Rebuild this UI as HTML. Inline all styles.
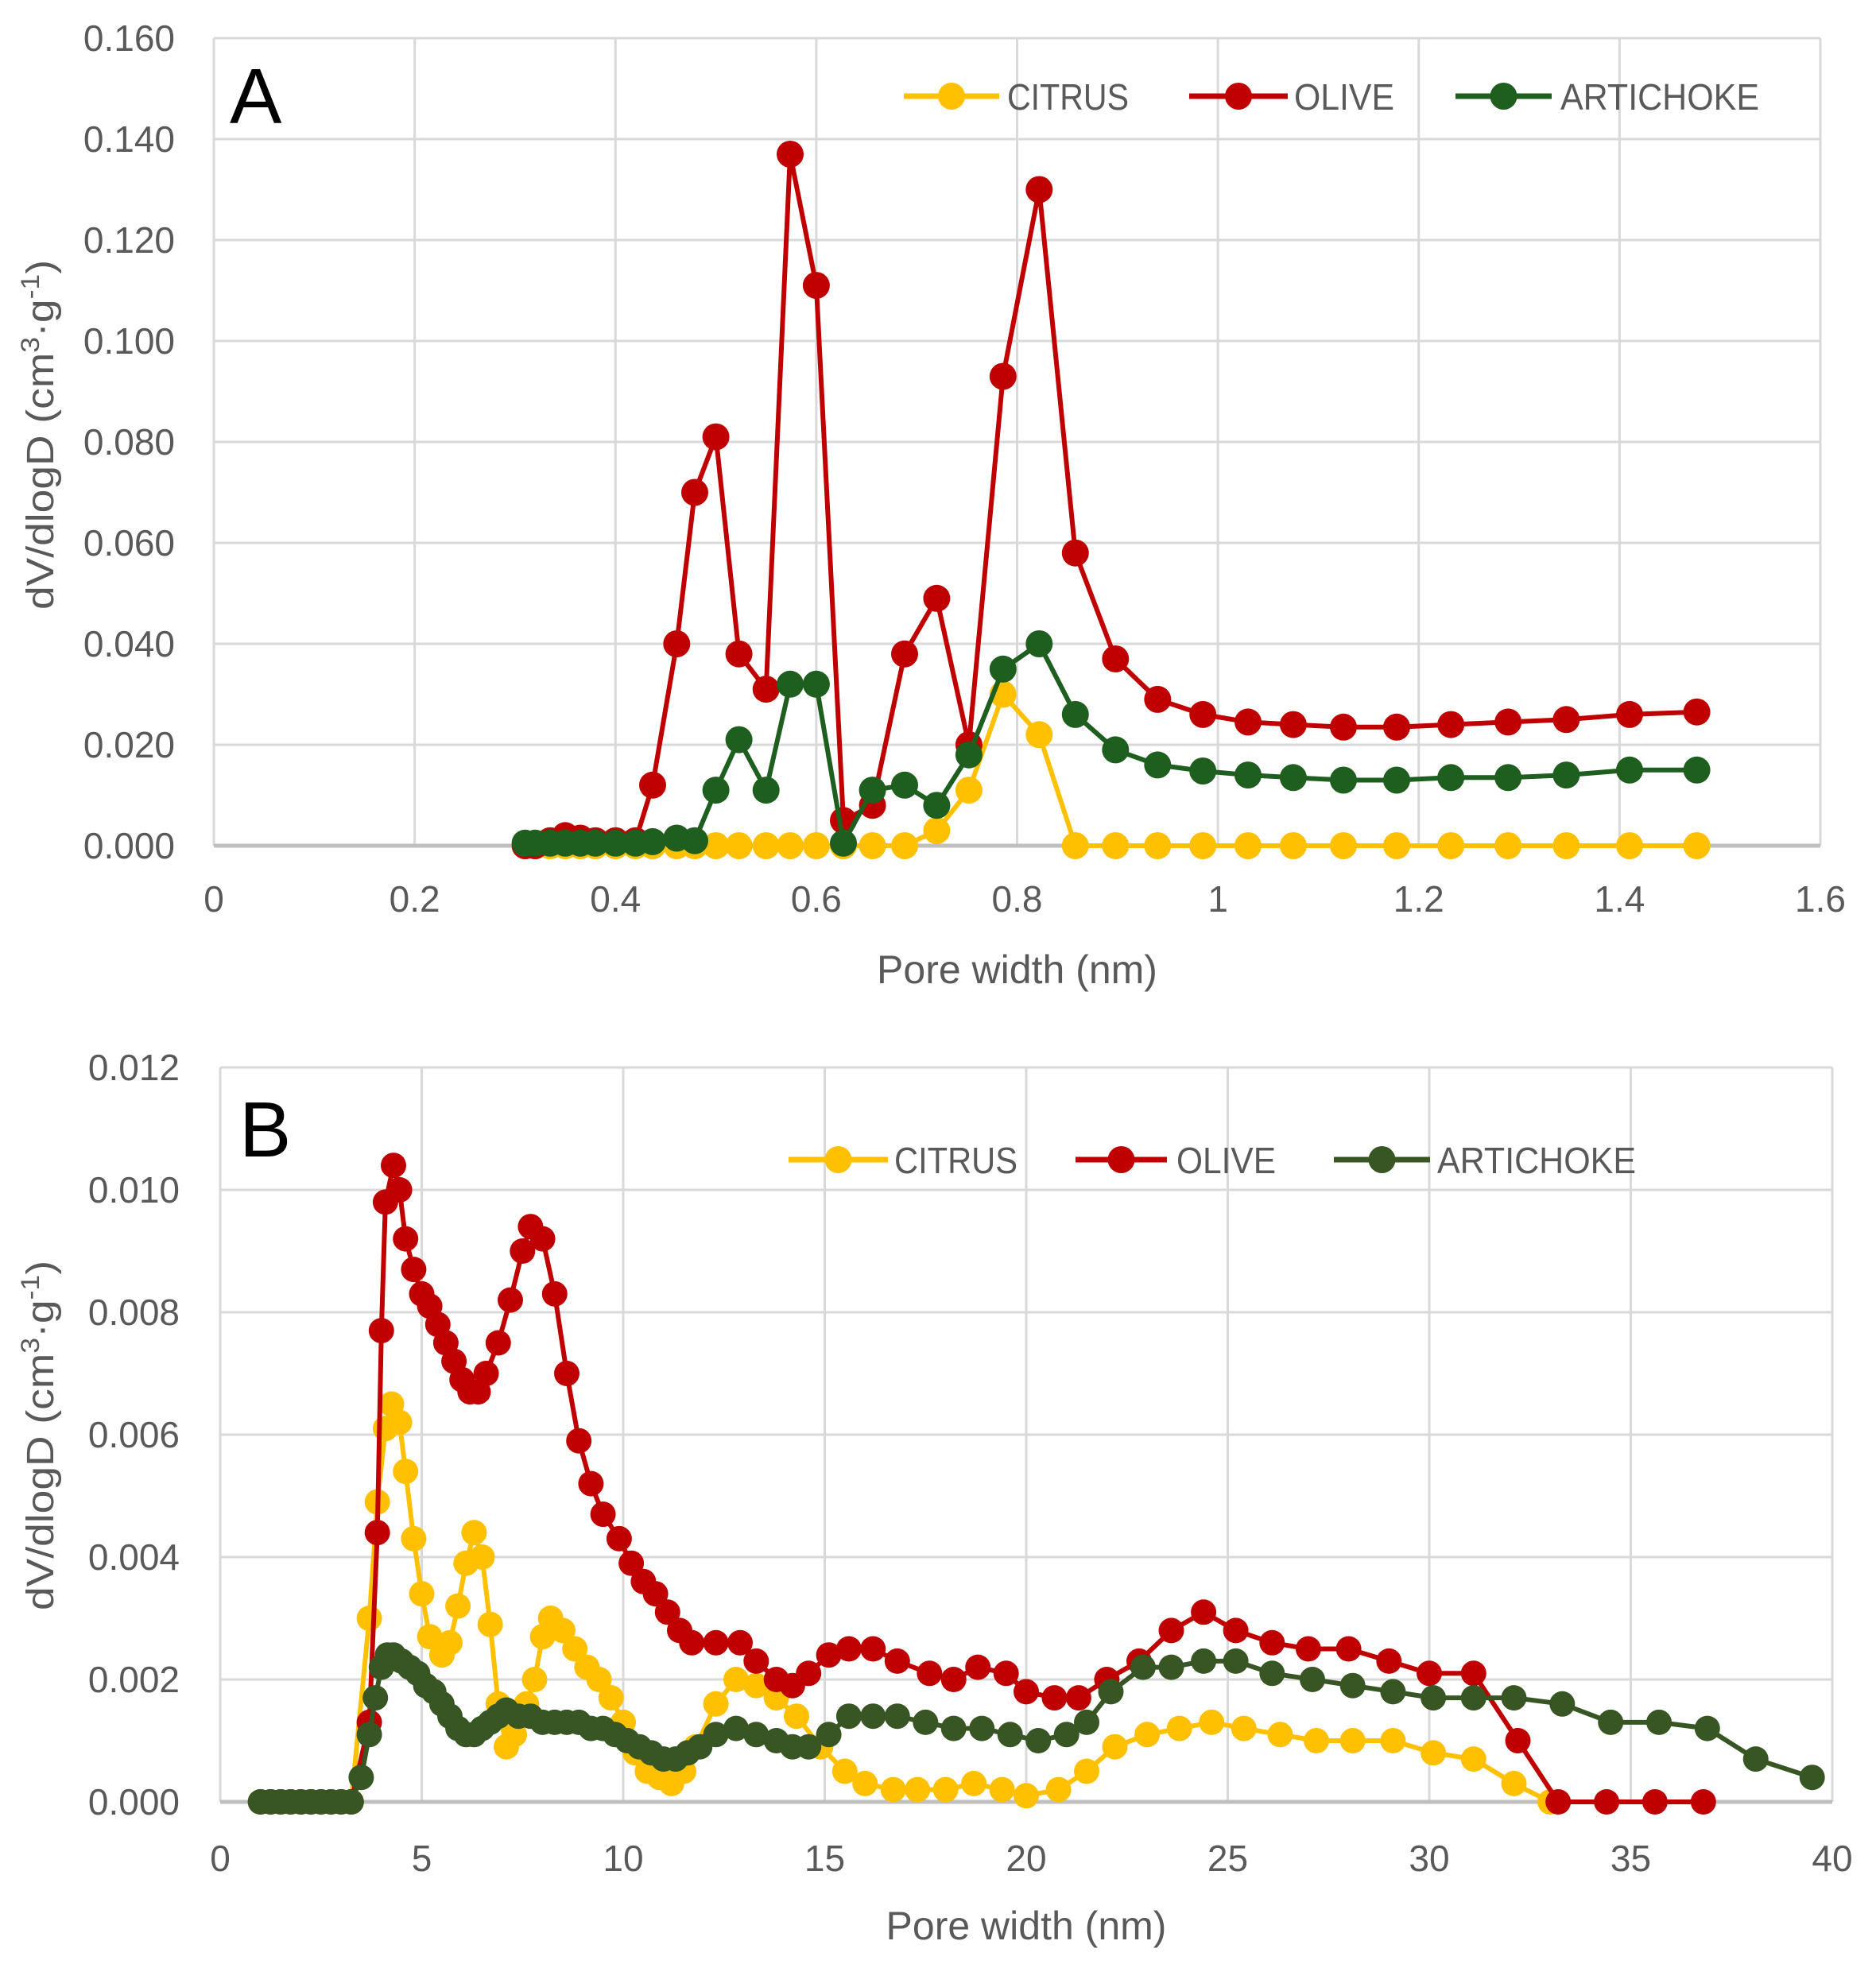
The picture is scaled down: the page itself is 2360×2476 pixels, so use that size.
<!DOCTYPE html>
<html><head><meta charset="utf-8"><style>
html,body{margin:0;padding:0;background:#fff}
svg{display:block}
text{font-family:"Liberation Sans",sans-serif;fill:#595959}
</style></head><body>
<svg id="s" width="2360" height="2476" xmlns="http://www.w3.org/2000/svg"></svg>
<script>
const S=document.getElementById('s');let h='';
function chart(o){
 const X=v=>o.l+(v-o.x0)/(o.x1-o.x0)*(o.r-o.l), Y=v=>o.b-(v/o.y1)*(o.b-o.t);
 for(let i=0;i<=o.nx;i++){const v=o.x0+i*(o.x1-o.x0)/o.nx;h+=`<line x1="${X(v)}" y1="${o.t}" x2="${X(v)}" y2="${o.b}" stroke="#d9d9d9" stroke-width="3"/>`;
  h+=`<text x="${X(v)}" y="${o.xlb}" font-size="46" text-anchor="middle">${o.xf(v)}</text>`;}
 for(let i=0;i<=o.ny;i++){const v=i*o.y1/o.ny;h+=`<line x1="${o.l}" y1="${Y(v)}" x2="${o.r}" y2="${Y(v)}" stroke="${i==0?'#bfbfbf':'#d9d9d9'}" stroke-width="${i==0?5:3}"/>`;
  h+=`<text x="${o.ylr}" y="${Y(v)+16}" font-size="46" text-anchor="end">${v.toFixed(3)}</text>`;}
 h+=`<text x="${(o.l+o.r)/2}" y="${o.xtb}" font-size="50" text-anchor="middle">Pore width (nm)</text>`;
 h+=`<text transform="translate(67,${o.yc}) rotate(-90)" font-size="48" text-anchor="middle" textLength="440" lengthAdjust="spacingAndGlyphs">dV/dlogD (cm<tspan font-size="32" dy="-18">3</tspan><tspan dy="18">·g</tspan><tspan font-size="32" dy="-18">-1</tspan><tspan dy="18">)</tspan></text>`;
 h+=`<text x="${o.lx}" y="${o.lby}" font-size="98" style="fill:#000">${o.lab}</text>`;
 o.series.forEach(s=>{const p=s.d.map(d=>X(d[0]).toFixed(1)+','+Y(d[1]).toFixed(1)).join(' ');
  h+=`<polyline points="${p}" fill="none" stroke="${s.c}" stroke-width="${o.lw}" stroke-linejoin="round"/>`;
  s.d.forEach(d=>h+=`<circle cx="${X(d[0]).toFixed(1)}" cy="${Y(d[1]).toFixed(1)}" r="${o.mr}" fill="${s.c}"/>`);});
 o.leg.forEach(g=>{h+=`<line x1="${g.a}" y1="${o.ly}" x2="${g.b}" y2="${o.ly}" stroke="${g.c}" stroke-width="7"/><circle cx="${(g.a+g.b)/2}" cy="${o.ly}" r="17" fill="${g.c}"/><text x="${g.tx}" y="${o.ly+17}" font-size="46" textLength="${g.tw}" lengthAdjust="spacingAndGlyphs">${g.t}</text>`;});
}
const low=[0.31,0.32,0.335,0.35,0.365,0.38,0.40,0.42];
const xsA=[0.437,0.461,0.479,0.50,0.523,0.55,0.574,0.60,0.627,0.656,0.688,0.72,0.752,0.786,0.822,0.858,0.898,0.94,0.985,1.03,1.075,1.125,1.178,1.232,1.289,1.347,1.41,1.477];
const oA=[0.012,0.040,0.070,0.081,0.038,0.031,0.137,0.111,0.005,0.008,0.038,0.049,0.020,0.093,0.130,0.058,0.037,0.029,0.026,0.0245,0.024,0.0235,0.0235,0.024,0.0245,0.025,0.026,0.0265];
const aA=[0.0008,0.0015,0.001,0.011,0.021,0.011,0.032,0.032,0.0005,0.011,0.012,0.008,0.018,0.035,0.040,0.026,0.019,0.016,0.0148,0.014,0.0135,0.013,0.013,0.0135,0.0135,0.014,0.015,0.015];
const cA=xsA.map((x,i)=>[x,[0,0,0,0,0,0,0,0,0,0,0,0.003,0.011,0.030,0.022][i]||0]);
const olA=[[0.31,0],[0.32,0],[0.335,0.001],[0.35,0.002],[0.365,0.0015],[0.38,0.001],[0.40,0.001],[0.42,0.001]].concat(xsA.map((x,i)=>[x,oA[i]]));
const arA=low.map(x=>[x,0.0005]).concat(xsA.map((x,i)=>[x,aA[i]]));
const ciA=low.map(x=>[x,0]).concat(cA);
chart({l:269,r:2290,t:48,b:1064,x0:0,x1:1.6,nx:8,y1:0.16,ny:8,xf:v=>+v.toFixed(1)+'',ylr:220,xlb:1147,xtb:1237,yc:547,lab:'A',lx:289,lby:155,lw:6,mr:17,
 series:[{c:'#FFC000',d:ciA},{c:'#C00000',d:olA},{c:'#1E5E1E',d:arA}],ly:121,
 leg:[{a:1137,b:1257,c:'#FFC000',tx:1267,tw:153,t:'CITRUS'},{a:1496,b:1620,c:'#C00000',tx:1628,tw:126,t:'OLIVE'},{a:1831,b:1952,c:'#1E5E1E',tx:1963,tw:250,t:'ARTICHOKE'}]});
const z=[];for(let x=1;x<=3.4;x+=0.25)z.push([+x.toFixed(2),0]);
const P=s=>s.trim().split(/\s+/).map(t=>t.split(',').map(Number));
const olB=z.concat(P(`3.7,0.0013 3.9,0.0044 4.0,0.0077 4.1,0.0098 4.3,0.0104 4.45,0.0100 4.6,0.0092 4.8,0.0087 5.0,0.0083 5.2,0.0081 5.4,0.0078 5.6,0.0075 5.8,0.0072 6.0,0.0069 6.2,0.0067 6.4,0.0067 6.6,0.0070 6.9,0.0075 7.2,0.0082 7.5,0.0090 7.7,0.0094 8.0,0.0092 8.3,0.0083 8.6,0.0070 8.9,0.0059 9.2,0.0052 9.5,0.0047 9.9,0.0043 10.2,0.0039 10.5,0.0036 10.8,0.0034 11.1,0.0031 11.4,0.0028 11.7,0.0026 12.3,0.0026 12.9,0.0026 13.3,0.0023 13.8,0.0020 14.2,0.0019 14.6,0.0021 15.1,0.0024 15.6,0.0025 16.2,0.0025 16.8,0.0023 17.6,0.0021 18.2,0.0020 18.8,0.0022 19.5,0.0021 20.0,0.0018 20.7,0.0017 21.3,0.0017 22.0,0.0020 22.8,0.0023 23.6,0.0028 24.4,0.0031 25.2,0.0028 26.1,0.0026 27.0,0.0025 28.0,0.0025 29.0,0.0023 30.0,0.0021 31.1,0.0021 32.2,0.0010 33.2,0 34.4,0 35.6,0 36.8,0`));
const ciB=z.concat(P(`3.7,0.003 3.9,0.0049 4.1,0.0061 4.25,0.0065 4.45,0.0062 4.6,0.0054 4.8,0.0043 5.0,0.0034 5.2,0.0027 5.5,0.0024 5.7,0.0026 5.9,0.0032 6.1,0.0039 6.3,0.0044 6.5,0.0040 6.7,0.0029 6.9,0.0016 7.1,0.0009 7.3,0.0011 7.6,0.0016 7.8,0.0020 8.0,0.0027 8.2,0.0030 8.5,0.0028 8.8,0.0025 9.1,0.0022 9.4,0.0020 9.7,0.0017 10.0,0.0013 10.3,0.0008 10.6,0.0005 10.9,0.0004 11.2,0.0003 11.5,0.0005 11.8,0.0009 12.3,0.0016 12.8,0.0020 13.3,0.0019 13.8,0.0017 14.3,0.0014 14.9,0.0009 15.5,0.0005 16.0,0.0003 16.7,0.0002 17.3,0.0002 18.0,0.0002 18.7,0.0003 19.4,0.0002 20.0,0.0001 20.8,0.0002 21.5,0.0005 22.2,0.0009 23.0,0.0011 23.8,0.0012 24.6,0.0013 25.4,0.0012 26.3,0.0011 27.2,0.0010 28.1,0.0010 29.1,0.0010 30.1,0.0008 31.1,0.0007 32.1,0.0003 33.0,0`));
const arB=z.concat(P(`3.5,0.0004 3.7,0.0011 3.85,0.0017 4.0,0.0022 4.15,0.0024 4.3,0.0024 4.5,0.0023 4.7,0.0022 4.9,0.0021 5.1,0.0019 5.3,0.0018 5.5,0.0016 5.7,0.0014 5.9,0.0012 6.1,0.0011 6.3,0.0011 6.5,0.0012 6.7,0.0013 6.9,0.0014 7.1,0.0015 7.4,0.0014 7.7,0.0014 8.0,0.0013 8.3,0.0013 8.6,0.0013 8.9,0.0013 9.2,0.0012 9.5,0.0012 9.8,0.0011 10.1,0.0010 10.4,0.0009 10.7,0.0008 11.0,0.0007 11.3,0.0007 11.6,0.0008 11.9,0.0009 12.3,0.0011 12.8,0.0012 13.3,0.0011 13.8,0.0010 14.2,0.0009 14.6,0.0009 15.1,0.0011 15.6,0.0014 16.2,0.0014 16.8,0.0014 17.5,0.0013 18.2,0.0012 18.9,0.0012 19.6,0.0011 20.3,0.0010 21.0,0.0011 21.5,0.0013 22.1,0.0018 22.9,0.0022 23.6,0.0022 24.4,0.0023 25.2,0.0023 26.1,0.0021 27.1,0.0020 28.1,0.0019 29.1,0.0018 30.1,0.0017 31.1,0.0017 32.1,0.0017 33.3,0.0016 34.5,0.0013 35.7,0.0013 36.9,0.0012 38.1,0.0007 39.5,0.0004`));
chart({l:277,r:2305,t:1343,b:2267,x0:0,x1:40,nx:8,y1:0.012,ny:6,xf:v=>Math.round(v)+'',ylr:226,xlb:2354,xtb:2440,yc:1806,lab:'B',lx:301,lby:1455,lw:6,mr:16,
 series:[{c:'#FFC000',d:ciB},{c:'#C00000',d:olB},{c:'#375623',d:arB}],ly:1459,
 leg:[{a:992,b:1117,c:'#FFC000',tx:1125,tw:155,t:'CITRUS'},{a:1353,b:1468,c:'#C00000',tx:1480,tw:125,t:'OLIVE'},{a:1678,b:1799,c:'#375623',tx:1808,tw:250,t:'ARTICHOKE'}]});
S.innerHTML=h;
</script>
</body></html>
